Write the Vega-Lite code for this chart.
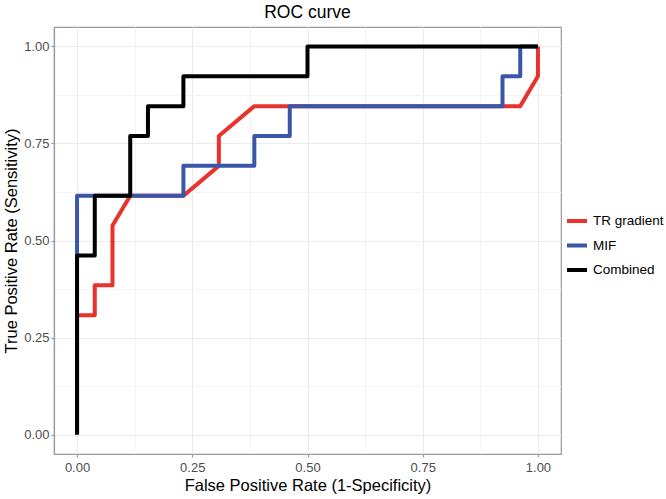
{
  "$schema": "https://vega.github.io/schema/vega-lite/v6.json",
  "autosize": "none",
  "padding": {"left": 54, "top": 27, "right": 105, "bottom": 45},
  "width": 507,
  "height": 427,
  "background": "white",
  "title": {"text": "ROC curve", "fontSize": 17.5, "fontWeight": "normal", "font": "Liberation Sans", "color": "black", "anchor": "middle", "offset": 6},
  "config": {
    "font": "Liberation Sans",
    "view": {"stroke": "#9a9a9a", "strokeWidth": 1.2},
    "axis": {
      "domainColor": "#9a9a9a", "domainWidth": 1.2,
      "tickColor": "#9a9a9a", "tickSize": 3, "tickWidth": 1.2,
      "labelFont": "Liberation Sans", "labelFontSize": 13, "labelColor": "#4d4d4d",
      "titleFont": "Liberation Sans", "titleFontSize": 16.5, "titleFontWeight": "normal", "titleColor": "black"
    },
    "legend": {"labelFont": "Liberation Sans", "labelFontSize": 13.5, "labelColor": "black"}
  },
  "data": {"values": [
    {"s": "TR gradient", "i": 1, "x": 0, "y": 0},
    {"s": "TR gradient", "i": 2, "x": 0, "y": 0.307692},
    {"s": "TR gradient", "i": 3, "x": 0.038462, "y": 0.307692},
    {"s": "TR gradient", "i": 4, "x": 0.038462, "y": 0.384615},
    {"s": "TR gradient", "i": 5, "x": 0.076923, "y": 0.384615},
    {"s": "TR gradient", "i": 6, "x": 0.076923, "y": 0.538462},
    {"s": "TR gradient", "i": 7, "x": 0.115385, "y": 0.615385},
    {"s": "TR gradient", "i": 8, "x": 0.230769, "y": 0.615385},
    {"s": "TR gradient", "i": 9, "x": 0.307692, "y": 0.692308},
    {"s": "TR gradient", "i": 10, "x": 0.307692, "y": 0.769231},
    {"s": "TR gradient", "i": 11, "x": 0.384615, "y": 0.846154},
    {"s": "TR gradient", "i": 12, "x": 0.961538, "y": 0.846154},
    {"s": "TR gradient", "i": 13, "x": 1, "y": 0.923077},
    {"s": "TR gradient", "i": 14, "x": 1, "y": 1},
    {"s": "MIF", "i": 1, "x": 0, "y": 0},
    {"s": "MIF", "i": 2, "x": 0, "y": 0.615385},
    {"s": "MIF", "i": 3, "x": 0.230769, "y": 0.615385},
    {"s": "MIF", "i": 4, "x": 0.230769, "y": 0.692308},
    {"s": "MIF", "i": 5, "x": 0.384615, "y": 0.692308},
    {"s": "MIF", "i": 6, "x": 0.384615, "y": 0.769231},
    {"s": "MIF", "i": 7, "x": 0.461538, "y": 0.769231},
    {"s": "MIF", "i": 8, "x": 0.461538, "y": 0.846154},
    {"s": "MIF", "i": 9, "x": 0.923077, "y": 0.846154},
    {"s": "MIF", "i": 10, "x": 0.923077, "y": 0.923077},
    {"s": "MIF", "i": 11, "x": 0.961538, "y": 0.923077},
    {"s": "MIF", "i": 12, "x": 0.961538, "y": 1},
    {"s": "MIF", "i": 13, "x": 1, "y": 1},
    {"s": "Combined", "i": 1, "x": 0, "y": 0},
    {"s": "Combined", "i": 2, "x": 0, "y": 0.461538},
    {"s": "Combined", "i": 3, "x": 0.038462, "y": 0.461538},
    {"s": "Combined", "i": 4, "x": 0.038462, "y": 0.615385},
    {"s": "Combined", "i": 5, "x": 0.115385, "y": 0.615385},
    {"s": "Combined", "i": 6, "x": 0.115385, "y": 0.769231},
    {"s": "Combined", "i": 7, "x": 0.153846, "y": 0.769231},
    {"s": "Combined", "i": 8, "x": 0.153846, "y": 0.846154},
    {"s": "Combined", "i": 9, "x": 0.230769, "y": 0.846154},
    {"s": "Combined", "i": 10, "x": 0.230769, "y": 0.923077},
    {"s": "Combined", "i": 11, "x": 0.5, "y": 0.923077},
    {"s": "Combined", "i": 12, "x": 0.5, "y": 1},
    {"s": "Combined", "i": 13, "x": 1, "y": 1}
  ]},
  "mark": {"type": "line", "strokeWidth": 4, "strokeJoin": "round", "strokeCap": "butt", "clip": true},
  "encoding": {
    "x": {"field": "x", "type": "quantitative",
      "scale": {"domain": [-0.05, 1.05], "nice": false, "zero": false},
      "axis": {"title": "False Positive Rate (1-Specificity)", "values": [0, 0.125, 0.25, 0.375, 0.5, 0.625, 0.75, 0.875, 1],
        "labelExpr": "datum.value % 0.25 === 0 ? format(datum.value, '.2f') : ''",
        "tickOpacity": {"condition": {"test": "datum.value % 0.25 === 0", "value": 1}, "value": 0},
        "gridColor": {"condition": {"test": "datum.value % 0.25 === 0", "value": "#ebebeb"}, "value": "#f4f4f4"},
        "labelPadding": 4, "titlePadding": 3}},
    "y": {"field": "y", "type": "quantitative",
      "scale": {"domain": [-0.05, 1.05], "nice": false, "zero": false},
      "axis": {"title": "True Positive Rate (Sensitivity)", "values": [0, 0.125, 0.25, 0.375, 0.5, 0.625, 0.75, 0.875, 1],
        "labelExpr": "datum.value % 0.25 === 0 ? format(datum.value, '.2f') : ''",
        "tickOpacity": {"condition": {"test": "datum.value % 0.25 === 0", "value": 1}, "value": 0},
        "gridColor": {"condition": {"test": "datum.value % 0.25 === 0", "value": "#ebebeb"}, "value": "#f4f4f4"},
        "labelPadding": 2, "titlePadding": 4}},
    "color": {"field": "s", "type": "nominal",
      "scale": {"domain": ["TR gradient", "MIF", "Combined"], "range": ["#e8322b", "#3a56a8", "#000000"]},
      "legend": {"title": null, "orient": "none", "legendX": 511, "legendY": 182, "symbolType": "stroke", "symbolStrokeWidth": 4, "symbolSize": 400, "rowPadding": 4.5, "labelOffset": 4}},
    "order": {"field": "i", "type": "quantitative"}
  }
}
